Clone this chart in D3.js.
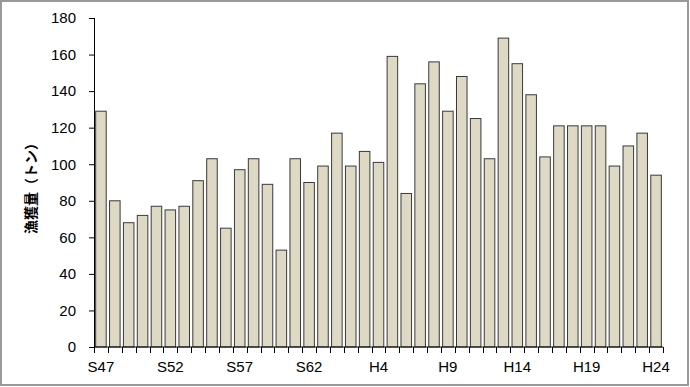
<!DOCTYPE html>
<html>
<head>
<meta charset="utf-8">
<script src="https://cdn.jsdelivr.net/npm/d3@7"></script>
<style>
  body { margin: 0; background: #fff; }
  svg { display: block; }
  .axis text { font-family: "Liberation Sans", Arial, sans-serif; font-size: 15px; fill: #000; }
  .axis path, .axis line { stroke: #000; }
</style>
</head>
<body>
<svg width="690" height="387"></svg>
<script>
// years S47 (1972) .. H24 (2012)
var years = [];
for (var s = 47; s <= 63; s++) years.push("S" + s);
for (var h = 1; h <= 24; h++) years.push("H" + h);

var catch_t = [129, 80, 68, 72, 77, 75, 77, 91, 103, 65, 97, 103, 89, 53, 103, 90, 99,
               117, 99, 107, 101, 159, 84, 144, 156, 129, 148, 125, 103, 169, 155, 138, 104,
               121, 121, 121, 121, 99, 110, 117, 94];

var tickLabels = ["S47", "S52", "S57", "S62", "H4", "H9", "H14", "H19", "H24"];
var yTicks = [0, 20, 40, 60, 80, 100, 120, 140, 160, 180];

var svg = d3.select("svg"),
    margin = {top: 18, right: 27, bottom: 40, left: 94},
    width = +svg.attr("width") - margin.left - margin.right,
    height = +svg.attr("height") - margin.top - margin.bottom,
    g = svg.append("g").attr("transform", "translate(" + margin.left + "," + margin.top + ")");

// outer frame
svg.append("rect")
    .attr("x", 1).attr("y", 1)
    .attr("width", 687).attr("height", 384)
    .attr("fill", "none")
    .attr("stroke", "#999")
    .attr("stroke-width", 2);

var x = d3.scaleBand()
    .domain(years)
    .range([0, width])
    .paddingInner(0.24)
    .paddingOuter(0.12);

var y = d3.scaleLinear()
    .domain([0, 180])
    .range([height, 0]);

g.selectAll(".bar")
    .data(catch_t)
  .enter().append("rect")
    .attr("class", "bar")
    .attr("x", function(d, i) { return x(years[i]); })
    .attr("y", function(d) { return y(d); })
    .attr("width", x.bandwidth())
    .attr("height", function(d) { return height - y(d); })
    .attr("fill", "#ddd9c4")
    .attr("stroke", "#3a3a3a")
    .attr("stroke-width", 1);

// y axis
g.append("g")
    .attr("class", "axis axis--y")
    .call(d3.axisLeft(y).tickValues(yTicks).tickSize(5).tickPadding(13).tickSizeOuter(0))
    .call(function(a) { a.select(".domain").attr("d", "M0.5," + height + "V0"); });

// x axis: tick marks on category boundaries, labels every 5 years
var step = x.step();
var xa = g.append("g")
    .attr("class", "axis axis--x")
    .attr("transform", "translate(0," + height + ")");

xa.append("line")
    .attr("x1", 0).attr("x2", width)
    .attr("stroke", "#000");

xa.selectAll(".tk")
    .data(d3.range(years.length + 1))
  .enter().append("line")
    .attr("class", "tk")
    .attr("x1", function(i) { return Math.round(i * width / years.length) + 0.5; })
    .attr("x2", function(i) { return Math.round(i * width / years.length) + 0.5; })
    .attr("y1", 0).attr("y2", 6)
    .attr("stroke", "#000");

xa.selectAll(".lbl")
    .data(tickLabels)
  .enter().append("text")
    .attr("class", "lbl")
    .attr("x", function(d) { return x(d) + x.bandwidth() / 2; })
    .attr("y", 25)
    .attr("text-anchor", "middle")
    .text(function(d) { return d; });

// y axis title
svg.append("text")
    .attr("transform", "translate(36,185) rotate(-90)")
    .attr("text-anchor", "middle")
    .style("font-family", "'Noto Sans CJK JP', sans-serif")
    .style("font-size", "14px")
    .style("font-weight", "bold")
    .text("漁獲量（トン）");
</script>
</body>
</html>
